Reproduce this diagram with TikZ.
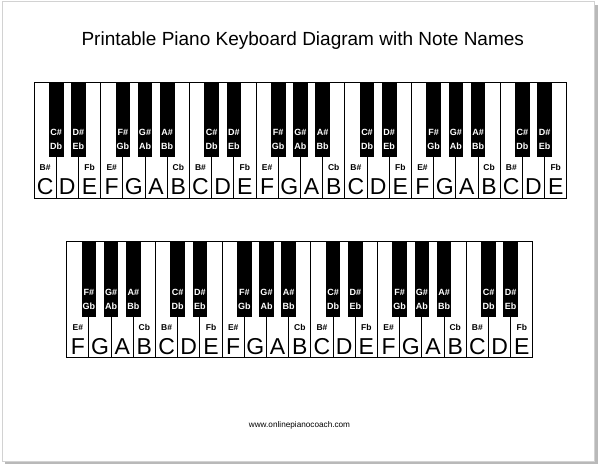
\documentclass[tikz,border=0pt]{standalone}
\usepackage{fontspec}
\setmainfont{Liberation Sans}
\newcommand\pkWhite[1]{\ifcase#1 C\or D\or E\or F\or G\or A\or B\fi}
\newcommand\pkSmall[1]{\ifcase#1 B\#\or\or Fb\or E\#\or\or\or Cb\fi}
\newcommand\pkUp[1]{\ifcase#1 C\#\or D\#\or\or F\#\or G\#\or A\#\fi}
\newcommand\pkDown[1]{\ifcase#1 Db\or Eb\or\or Gb\or Ab\or Bb\fi}
\begin{document}
\begin{tikzpicture}[x=1pt,y=-1pt,
  wkey/.style={draw=black, line width=0.9pt, fill=white, rectangle, anchor=north west,
    minimum width=22.2pt, minimum height=116pt, inner sep=0pt, outer sep=0pt},
  bkey/.style={fill=black, rectangle, anchor=north, minimum width=14.6pt,
    minimum height=75.3pt, inner sep=0pt, outer sep=0pt},
  bigletter/.style={anchor=base, inner sep=0pt, font=\fontsize{23}{23}\selectfont},
  smalllab/.style={anchor=base, inner sep=0pt, font=\fontsize{8.5}{8.5}\selectfont\bfseries},
  blacklab/.style={anchor=base, inner sep=0pt, text=white, font=\fontsize{9}{9}\selectfont\bfseries},
  titletext/.style={anchor=base, inner sep=0pt, font=\fontsize{19}{19}\selectfont},
  foottext/.style={anchor=base, inner sep=0pt, font=\fontsize{8.2}{8.2}\selectfont}]
\useasboundingbox (0,0) rectangle (600,465);
% page with shadow
\fill[gray!55] (5,5) rectangle (597.5,464);
\filldraw[fill=white, draw=gray!35, line width=0.8pt] (2.3,1.8) rectangle (594.5,461);
\node[titletext] (title) at (302.8,45.5) {Printable Piano Keyboard Diagram with Note Names};
\node[foottext] (foot) at (299.5,427) {www.onlinepianocoach.com};
% keyboards: prefix / left x / top y / number of white keys / first note index
\foreach \pre/\xo/\yo/\nk/\st in {t/34/82/24/0, b/66.7/241.7/21/3} {
  \pgfmathtruncatemacro\last{\nk-1}
  \foreach \i in {0,...,\last} {
    \pgfmathtruncatemacro\n{mod(\i+\st,7)}
    \pgfmathsetmacro\kx{\xo+22.2*\i}
    \pgfmathsetmacro\cx{\kx+11.1}
    \node[wkey] (\pre w\i) at (\kx,\yo) {};
    \node[bigletter] (\pre L\i) at (\cx,\yo+113) {\pkWhite{\n}};
    \ifnum\n=1 \else\ifnum\n=4 \else\ifnum\n=5 \else
      \node[smalllab] (\pre s\i) at (\cx,\yo+89) {\pkSmall{\n}};
    \fi\fi\fi
  }
  \foreach \i in {0,...,\last} {
    \pgfmathtruncatemacro\n{mod(\i+\st,7)}
    \pgfmathsetmacro\bx{\xo+22.2*(\i+1)}
    \ifnum\i<\last
    \ifnum\n=2 \else\ifnum\n=6 \else
      \node[bkey] (\pre b\i) at (\bx,\yo) {};
      \node[blacklab] (\pre u\i) at (\bx,\yo+53.7) {\pkUp{\n}};
      \node[blacklab] (\pre d\i) at (\bx,\yo+68) {\pkDown{\n}};
    \fi\fi
    \fi
  }
}
\end{tikzpicture}
\end{document}
